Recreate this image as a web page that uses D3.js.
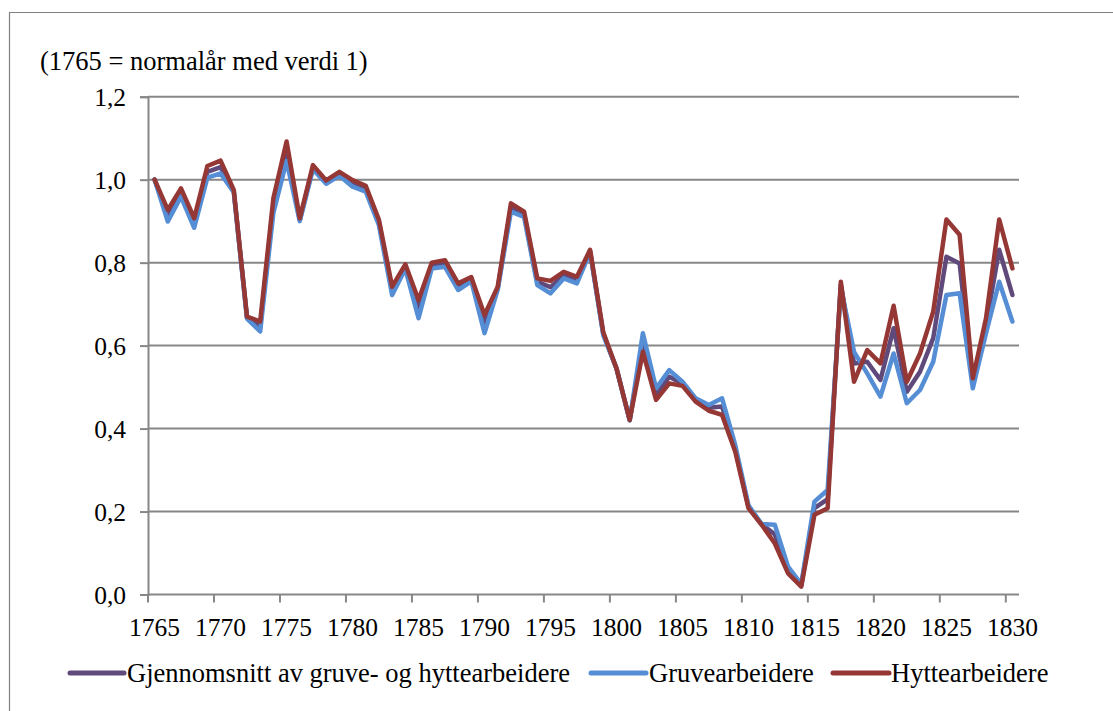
<!DOCTYPE html>
<html>
<head>
<meta charset="utf-8">
<script src="https://cdn.jsdelivr.net/npm/d3@7"></script>
<style>
  html, body { margin: 0; padding: 0; background: #ffffff; }
  svg { display: block; }
</style>
</head>
<body>
<svg id="chart" width="1113" height="711"></svg>
<script>
const years = [1765,1766,1767,1768,1769,1770,1771,1772,1773,1774,
  1775,1776,1777,1778,1779,1780,1781,1782,1783,1784,
  1785,1786,1787,1788,1789,1790,1791,1792,1793,1794,
  1795,1796,1797,1798,1799,1800,1801,1802,1803,1804,
  1805,1806,1807,1808,1809,1810,1811,1812,1813,1814,
  1815,1816,1817,1818,1819,1820,1821,1822,1823,1824,
  1825,1826,1827,1828,1829,1830];

const gjennomsnitt = [1.000,0.913,0.969,0.895,1.019,1.030,0.972,0.668,0.646,0.938,
  1.068,0.903,1.030,0.994,1.014,0.991,0.978,0.896,0.732,0.790,
  0.688,0.793,0.798,0.742,0.760,0.652,0.738,0.933,0.916,0.754,
  0.741,0.770,0.758,0.828,0.628,0.545,0.420,0.607,0.483,0.525,
  0.508,0.469,0.450,0.453,0.352,0.211,0.169,0.145,0.059,0.022,
  0.208,0.230,0.747,0.557,0.561,0.517,0.642,0.489,0.537,0.618,
  0.814,0.798,0.510,0.650,0.831,0.722];

const gruve = [1.000,0.899,0.959,0.884,1.005,1.015,0.970,0.665,0.634,0.920,
  1.045,0.900,1.025,0.990,1.010,0.983,0.971,0.890,0.722,0.785,
  0.666,0.786,0.790,0.734,0.755,0.630,0.735,0.923,0.910,0.746,
  0.726,0.762,0.750,0.825,0.625,0.545,0.420,0.630,0.497,0.541,
  0.513,0.473,0.457,0.473,0.360,0.215,0.170,0.168,0.067,0.025,
  0.224,0.252,0.740,0.585,0.533,0.477,0.581,0.461,0.493,0.561,
  0.722,0.726,0.497,0.630,0.754,0.658];

const hytte = [1.000,0.927,0.979,0.907,1.033,1.046,0.975,0.670,0.658,0.955,
  1.092,0.907,1.035,0.998,1.019,0.999,0.985,0.903,0.742,0.796,
  0.710,0.800,0.806,0.750,0.765,0.674,0.742,0.943,0.923,0.762,
  0.756,0.778,0.766,0.831,0.632,0.545,0.421,0.585,0.469,0.509,
  0.503,0.465,0.443,0.433,0.344,0.208,0.168,0.123,0.051,0.019,
  0.192,0.208,0.754,0.513,0.589,0.557,0.696,0.513,0.581,0.682,
  0.904,0.867,0.521,0.666,0.904,0.786];

const seriesNames = ["Gjennomsnitt av gruve- og hyttearbeidere", "Gruvearbeidere", "Hyttearbeidere"];
const seriesColors = ["#604a7b", "#558ed5", "#953735"];
const yTicks = [0, 0.2, 0.4, 0.6, 0.8, 1.0, 1.2];
const xTickYears = [1765,1770,1775,1780,1785,1790,1795,1800,1805,1810,1815,1820,1825,1830];
const subtitle = "(1765 = normalår med verdi 1)";

const FONT = "'Liberation Serif', 'Times New Roman', Tinos, serif";
const svg = d3.select("#chart");
const plotL = 148, plotR = 1019, plotT = 96.7, plotB = 594.5;

const x = d3.scaleBand().domain(years).range([plotL, plotR]).paddingInner(0).paddingOuter(0);
const y = d3.scaleLinear().domain([0, 1.2]).range([plotB, plotT]);
const fmt = d => d3.format(".1f")(d).replace(".", ",");

// Frame
svg.append("path")
  .attr("d", `M9.5,711 V12.5 H1113`)
  .attr("fill", "none").attr("stroke", "#808080").attr("stroke-width", 1.2);

// Subtitle
svg.append("text").attr("x", 40).attr("y", 70)
  .style("font-family", FONT).style("font-size", "26.5px").style("fill", "#000")
  .text(subtitle);

// Gridlines
svg.append("g").selectAll("line").data(yTicks.filter(d => d > 0)).join("line")
  .attr("x1", plotL).attr("x2", plotR)
  .attr("y1", d => y(d)).attr("y2", d => y(d))
  .attr("stroke", "#878787").attr("stroke-width", 2);

// Y axis
const yAxis = d3.axisLeft(y).tickValues(yTicks).tickFormat(fmt).tickSize(8).tickPadding(14);
const gy = svg.append("g").attr("transform", `translate(${plotL},0)`).call(yAxis);
gy.select(".domain").attr("stroke", "#878787").attr("stroke-width", 2);
gy.selectAll(".tick line").attr("stroke", "#878787").attr("stroke-width", 2);
gy.selectAll(".tick text")
  .style("font-family", FONT).style("font-size", "25.5px").style("fill", "#000")
  .attr("dy", "0.34em");

// X axis (ticks at category boundaries, labels at centres)
const gx = svg.append("g");
gx.append("line").attr("x1", plotL).attr("x2", plotR).attr("y1", plotB).attr("y2", plotB)
  .attr("stroke", "#878787").attr("stroke-width", 2);
gx.selectAll("line.tk").data(xTickYears).join("line").attr("class", "tk")
  .attr("x1", d => x(d)).attr("x2", d => x(d))
  .attr("y1", plotB).attr("y2", plotB + 8)
  .attr("stroke", "#878787").attr("stroke-width", 2);
gx.selectAll("text").data(xTickYears).join("text")
  .attr("x", d => x(d) + x.bandwidth() / 2).attr("y", 636)
  .attr("text-anchor", "middle")
  .style("font-family", FONT).style("font-size", "25.5px").style("fill", "#000")
  .text(d => d);

// Lines
const allSeries = [gjennomsnitt, gruve, hytte];
const line = d3.line()
  .x((d, i) => x(years[i]) + x.bandwidth() / 2)
  .y(d => y(d));
svg.append("g").selectAll("path").data(allSeries).join("path")
  .attr("d", d => line(d))
  .attr("fill", "none")
  .attr("stroke", (d, i) => seriesColors[i])
  .attr("stroke-width", 4.5)
  .attr("stroke-linejoin", "round")
  .attr("stroke-linecap", "round");

// Legend
const legendItems = [
  {x1: 70, x2: 124, tx: 127},
  {x1: 591, x2: 646, tx: 649},
  {x1: 833, x2: 889, tx: 891}
];
const lg = svg.append("g");
seriesNames.forEach((name, i) => {
  const it = legendItems[i];
  lg.append("line").attr("x1", it.x1).attr("x2", it.x2).attr("y1", 673).attr("y2", 673)
    .attr("stroke", seriesColors[i]).attr("stroke-width", 5).attr("stroke-linecap", "round");
  lg.append("text").attr("x", it.tx).attr("y", 682)
    .style("font-family", FONT).style("font-size", "26.5px").style("fill", "#000")
    .text(name);
});
</script>
</body>
</html>
